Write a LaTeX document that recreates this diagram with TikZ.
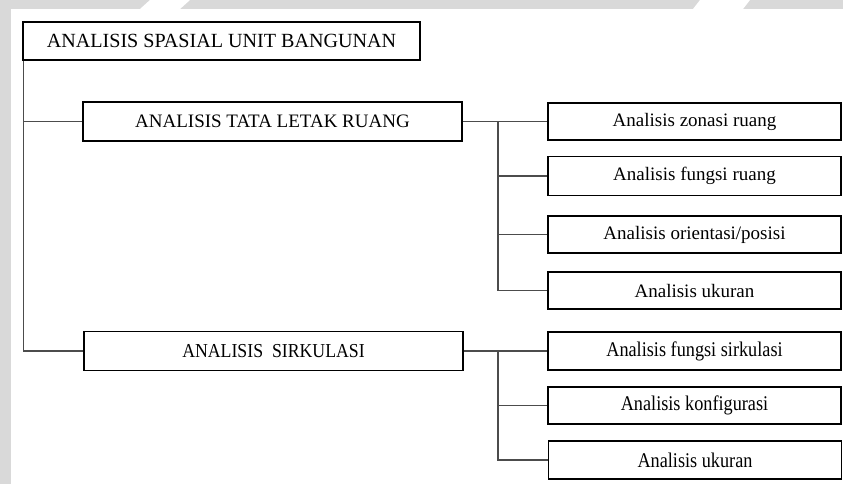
\documentclass[tikz,border=0pt]{standalone}
\usepackage{fontspec}
\setmainfont{Liberation Serif}
\begin{document}
\begin{tikzpicture}[x=1pt,y=-1pt,
  box/.style={draw=black, line width=1.6pt, fill=white, inner sep=0pt, anchor=center},
  mainbox/.style={box, minimum height=38pt},
  subbox/.style={box, minimum width=293pt, minimum height=37.5pt,
    font=\fontsize{19}{21}\selectfont},
  link/.style={draw=black!70, line width=1.1pt}
]
% page area
\fill[black!15] (0,0) rectangle (843,484);
\fill[white] (11,9) rectangle (843,484);
\fill[white] (150,0) -- (190,0) -- (180,9) -- (140,9) -- cycle;
\fill[white] (700,0) -- (750,0) -- (743,9) -- (693,9) -- cycle;
\useasboundingbox (0,0) rectangle (843,484);

% top level
\node[mainbox, minimum width=397pt, font=\fontsize{20.1}{22}\selectfont]
  (top) at (221.5,41) {ANALISIS SPASIAL UNIT BANGUNAN};

% second level
\node[mainbox, minimum width=379pt, minimum height=39pt, font=\fontsize{19}{21}\selectfont]
  (tata) at (272.5,121.5) {ANALISIS TATA LETAK RUANG};
\node[mainbox, minimum width=379pt, minimum height=39pt, font=\fontsize{18.3}{20}\selectfont]
  (sirk) at (273.5,351) {\scalebox{0.97}[1.08]{ANALISIS\ \ SIRKULASI}};

% third level, spatial layout
\node[subbox] (zon) at (694.5,121.5) {Analisis zonasi ruang};
\node[subbox, minimum height=39pt] (fun) at (694.5,176) {Analisis fungsi ruang};
\node[subbox] (ori) at (694.5,234.5) {Analisis orientasi/posisi};
\node[subbox] (uk1) at (694.5,290.5) {Analisis ukuran};

% third level, circulation
\node[subbox] (fsi) at (694.5,351) {\scalebox{0.96}[1.1]{Analisis fungsi sirkulasi}};
\node[subbox] (kon) at (694.5,405.5) {\scalebox{0.96}[1.1]{Analisis konfigurasi}};
\node[subbox] (uk2) at (695,460) {\scalebox{0.96}[1.1]{Analisis ukuran}};

% connectors
\coordinate (trunk) at ([xshift=1pt]top.south west);
\draw[link] (trunk) |- (tata.west);
\draw[link] (trunk) |- (sirk.west);

\coordinate (j1) at (498,121.5);
\draw[link] (tata.east) -- (zon.west);
\draw[link] (j1) |- (fun.west);
\draw[link] (j1) |- (ori.west);
\draw[link] (j1) |- (uk1.west);

\coordinate (j2) at (498,351);
\draw[link] (sirk.east) -- (fsi.west);
\draw[link] (j2) |- (kon.west);
\draw[link] (j2) |- (uk2.west);
\end{tikzpicture}
\end{document}
